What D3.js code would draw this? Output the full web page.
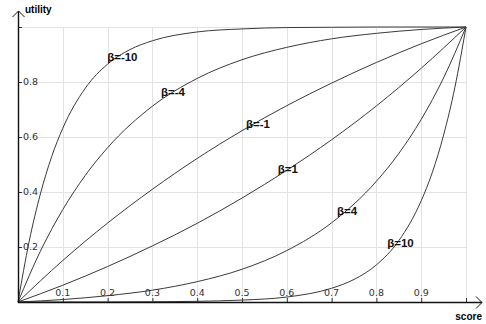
<!DOCTYPE html>
<html>
<head>
<meta charset="utf-8">
<script src="https://cdn.jsdelivr.net/npm/d3@7"></script>
<style>
  html, body { margin: 0; padding: 0; background: #fff; }
  svg { display: block; }
</style>
</head>
<body>
<script>
// values
const betas = [-10, -4, -1, 1, 4, 10];

const curveNeg10 = [[0, 0], [0.025, 0.221], [0.05, 0.393], [0.075, 0.528], [0.1, 0.632], [0.15, 0.777],
  [0.2, 0.865], [0.25, 0.918], [0.3, 0.950], [0.4, 0.982], [0.5, 0.993], [0.6, 0.998], [0.7, 0.999],
  [0.8, 1], [0.9, 1], [1, 1]];
const curveNeg4 = [[0, 0], [0.05, 0.185], [0.1, 0.336], [0.15, 0.460], [0.2, 0.561], [0.3, 0.712],
  [0.4, 0.813], [0.5, 0.881], [0.6, 0.926], [0.7, 0.957], [0.8, 0.977], [0.9, 0.991], [1, 1]];
const curveNeg1 = [[0, 0], [0.1, 0.151], [0.2, 0.287], [0.3, 0.410], [0.4, 0.522], [0.5, 0.623],
  [0.6, 0.714], [0.7, 0.796], [0.8, 0.871], [0.9, 0.939], [1, 1]];
const curvePos1 = [[0, 0], [0.1, 0.061], [0.2, 0.129], [0.3, 0.204], [0.4, 0.286], [0.5, 0.378],
  [0.6, 0.479], [0.7, 0.590], [0.8, 0.713], [0.9, 0.850], [1, 1]];
const curvePos4 = [[0, 0], [0.1, 0.009], [0.2, 0.023], [0.3, 0.043], [0.4, 0.074], [0.5, 0.119],
  [0.6, 0.187], [0.7, 0.288], [0.8, 0.439], [0.85, 0.540], [0.9, 0.664], [0.95, 0.815], [1, 1]];
const curvePos10 = [[0, 0], [0.2, 0.0003], [0.3, 0.001], [0.4, 0.0025], [0.5, 0.007], [0.6, 0.018],
  [0.7, 0.050], [0.75, 0.082], [0.8, 0.135], [0.85, 0.223], [0.9, 0.368], [0.925, 0.472],
  [0.95, 0.607], [0.975, 0.779], [1, 1]];

const curves = [curveNeg10, curveNeg4, curveNeg1, curvePos1, curvePos4, curvePos10];

// where each β label sits (score, utility)
const labelPos = [[0.199, 0.891], [0.319, 0.764], [0.509, 0.647], [0.580, 0.484], [0.712, 0.331], [0.824, 0.215]];

const xTicks = [0.1, 0.2, 0.3, 0.4, 0.5, 0.6, 0.7, 0.8, 0.9];
const yTicks = [0.2, 0.4, 0.6, 0.8];

const width = 486;
const height = 324;
const margin = {left: 18, right: 466, top: 27, bottom: 302};

const x = d3.scaleLinear().domain([0, 1]).range([margin.left, margin.right]);
const y = d3.scaleLinear().domain([0, 1]).range([margin.bottom, margin.top]);

const svg = d3.select('body').append('svg')
    .attr('width', width)
    .attr('height', height);

// grid
const grid = svg.append('g')
    .attr('stroke', '#e3e3e3')
    .attr('stroke-width', 1);

grid.selectAll('line.v')
  .data(d3.range(1, 11).map(i => i / 10))
  .join('line')
    .attr('class', 'v')
    .attr('x1', d => Math.round(x(d)) + 0.5)
    .attr('x2', d => Math.round(x(d)) + 0.5)
    .attr('y1', y(0))
    .attr('y2', y(1));

grid.selectAll('line.h')
  .data([0.2, 0.4, 0.6, 0.8, 1])
  .join('line')
    .attr('class', 'h')
    .attr('x1', x(0))
    .attr('x2', x(1))
    .attr('y1', d => Math.round(y(d)) + 0.5)
    .attr('y2', d => Math.round(y(d)) + 0.5);

// curves
const line = d3.line()
    .x(d => x(d[0]))
    .y(d => y(d[1]))
    .curve(d3.curveMonotoneX);

svg.append('g')
    .attr('fill', 'none')
    .attr('stroke', '#3a3a3a')
    .attr('stroke-width', 1)
  .selectAll('path')
  .data(curves)
  .join('path')
    .attr('d', line);

// x axis
const xAxis = svg.append('g')
    .attr('transform', `translate(0,${margin.bottom})`)
    .call(d3.axisTop(x).tickValues(xTicks.concat([1])).tickSize(4).tickFormat(''));
xAxis.select('.domain').remove();
xAxis.selectAll('line').attr('stroke', '#333');

svg.append('g')
    .attr('font-family', 'DejaVu Sans, sans-serif')
    .attr('font-size', 9.5)
    .attr('fill', '#333')
    .attr('text-anchor', 'middle')
  .selectAll('text')
  .data(xTicks)
  .join('text')
    .attr('x', d => x(d))
    .attr('y', margin.bottom - 6)
    .text(d => d3.format('.1f')(d));

// y axis
const yAxis = svg.append('g')
    .attr('transform', `translate(${margin.left},0)`)
    .call(d3.axisRight(y).tickValues(yTicks.concat([1])).tickSize(4).tickFormat(''));
yAxis.select('.domain').remove();
yAxis.selectAll('line').attr('stroke', '#333');

svg.append('g')
    .attr('font-family', 'DejaVu Sans, sans-serif')
    .attr('font-size', 9.5)
    .attr('fill', '#333')
  .selectAll('text')
  .data(yTicks)
  .join('text')
    .attr('x', margin.left + 5)
    .attr('y', d => y(d))
    .attr('dy', '0.35em')
    .text(d => d3.format('.1f')(d));

// axis lines with arrows
const b = margin.bottom, l = margin.left;
svg.append('line')
    .attr('x1', l).attr('x2', 482)
    .attr('y1', b + 0.5).attr('y2', b + 0.5)
    .attr('stroke', '#111').attr('stroke-width', 1.4);
svg.append('path')
    .attr('d', `M476,${b - 5.5}L482,${b + 0.5}L476,${b + 6.5}`)
    .attr('fill', 'none').attr('stroke', '#111').attr('stroke-width', 1);

svg.append('line')
    .attr('x1', l + 0.5).attr('x2', l + 0.5)
    .attr('y1', b + 1).attr('y2', 11)
    .attr('stroke', '#111').attr('stroke-width', 1.4);
svg.append('path')
    .attr('d', `M${l - 5.5},17L${l + 0.5},11L${l + 6.5},17`)
    .attr('fill', 'none').attr('stroke', '#111').attr('stroke-width', 1);

svg.append('text')
    .attr('x', 25).attr('y', 13)
    .attr('font-family', 'Liberation Sans, Arial, sans-serif')
    .attr('font-size', 10)
    .attr('font-weight', 'bold')
    .text('utility');

svg.append('text')
    .attr('x', 482).attr('y', 320)
    .attr('text-anchor', 'end')
    .attr('font-family', 'Liberation Sans, Arial, sans-serif')
    .attr('font-size', 10)
    .attr('font-weight', 'bold')
    .text('score');

// β labels
svg.append('g')
    .attr('font-family', 'Liberation Sans, Arial, sans-serif')
    .attr('font-size', 11.5)
    .attr('font-weight', 'bold')
    .attr('fill', '#111')
  .selectAll('text')
  .data(betas)
  .join('text')
    .attr('x', (d, i) => x(labelPos[i][0]))
    .attr('y', (d, i) => y(labelPos[i][1]))
    .attr('dy', '0.35em')
    .text(d => 'β=' + d);
</script>
</body>
</html>
